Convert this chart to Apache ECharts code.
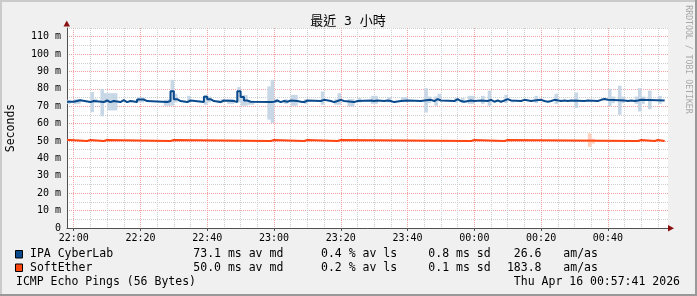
<!DOCTYPE html>
<html>
<head>
<meta charset="utf-8">
<script src="https://cdn.jsdelivr.net/npm/echarts@6/dist/echarts.min.js"></script>
<style>
html,body{margin:0;padding:0;background:#f0f0f0;}
#c{width:697px;height:296px;}
</style>
</head>
<body>
<div id="c"></div>
<script>
// ---- data (minutes since 21:58) ----
const titleText = '最近 3 小時';
const yAxisTitle = 'Seconds';
const xTickLabels = ['22:00','22:20','22:40','23:00','23:20','23:40','00:00','00:20','00:40'];
const yTickValues = [0,10,20,30,40,50,60,70,80,90,100,110];

const seriesNames = ['IPA CyberLab', 'SoftEther'];
const seriesColors = ['#0a4a8c', '#ff4510'];
const smokeColors = ['#c8d7e6', '#fdcfbf'];

// median (change points: [minute index, ms])
const blueMedian = [
[0,72.6],[2,73.5],[4,72.4],[7,73.0],[8,72.4],[11,73.3],[12,72.4],[13,73.0],[14,72.4],[16,73.5],[17,72.4],[18,73.0],[19,72.4],[21,73.9],[23,73.0],[24,72.4],[30,73.0],[31,78.7],[32,74.1],[33,73.0],[34,72.4],[36,73.3],[37,72.4],[41,75.5],[42,74.1],[43,73.0],[44,72.4],[46,73.3],[47,73.0],[50,72.4],[51,78.7],[52,75.3],[53,73.3],[54,72.6],[55,72.4],[61,72.6],[62,73.3],[63,72.4],[64,73.0],[65,72.6],[66,73.3],[67,73.0],[69,72.6],[70,72.4],[71,73.3],[72,73.0],[76,73.7],[77,73.0],[79,72.4],[80,73.0],[81,73.7],[82,73.0],[83,72.4],[86,73.0],[87,73.3],[91,73.0],[92,73.3],[93,73.0],[95,73.3],[96,73.0],[97,72.4],[98,73.0],[100,73.3],[102,73.0],[106,73.3],[107,73.7],[109,73.0],[110,74.1],[111,73.3],[112,73.0],[116,74.1],[117,73.0],[118,72.6],[119,73.3],[121,73.0],[122,73.3],[124,73.0],[126,73.7],[127,72.6],[128,73.3],[129,72.6],[130,73.3],[131,74.1],[132,73.3],[133,73.0],[136,73.7],[137,73.0],[139,73.3],[140,73.7],[142,73.0],[143,72.6],[144,73.0],[145,73.7],[146,73.0],[148,73.3],[149,73.0],[150,73.3],[151,73.0],[155,73.3],[156,73.0],[159,73.7],[160,74.2],[161,73.7],[162,73.3],[167,73.0],[168,73.3],[169,73.0],[170,73.3],[171,73.7],[172,73.3],[179,73.3]
];
const redMedian = [
[0,50.6],[1,50.0],[6,50.6],[7,50.0],[11,50.6],[12,50.0],[31,50.6],[32,50.0],[61,50.6],[62,50.0],[71,50.6],[72,50.0],[81,50.6],[82,50.0],[121,50.6],[122,50.0],[131,50.6],[132,50.0],[171,50.6],[172,50.0],[176,50.6],[177,50.0],[179,50.0]
];
// smoke: [minute index, low ms, high ms]
const blueSmoke = [
[0,71.4,73.7],[2,71.4,74.1],[3,71.4,74.1],[7,66.6,78.1],[8,72.2,74.3],[10,64.2,80.0],[11,71.8,77.5],[12,67.6,77.5],[13,67.6,77.5],[14,67.6,77.5],[21,72.2,75.3],[22,72.2,75.3],[29,70.3,73.7],[30,70.3,74.1],[31,70.3,85.2],[32,72.2,77.2],[36,72.2,76.0],[41,70.9,76.6],[42,72.2,75.6],[45,71.8,73.3],[46,72.2,74.1],[48,71.4,74.1],[49,71.4,74.1],[51,72.2,81.0],[52,70.3,76.6],[53,70.3,76.6],[54,70.9,73.3],[55,70.9,73.3],[60,62.3,81.4],[61,60.4,85.2],[62,71.8,74.1],[65,71.4,74.1],[67,70.3,76.6],[68,70.3,76.6],[70,71.8,73.3],[71,71.4,74.1],[76,70.9,78.5],[80,70.9,74.1],[81,70.9,77.5],[84,69.9,74.1],[85,69.9,74.1],[87,72.2,74.7],
[91,71.4,76.0],[92,71.4,76.0],[96,72.2,75.3],[100,72.4,75.3],[101,72.4,75.3],[107,66.4,80.4],[108,71.8,75.6],[110,70.3,75.6],[111,72.8,77.2],[116,72.2,74.7],[118,71.8,74.7],[120,71.4,76.0],[121,71.4,76.0],[124,71.4,76.0],[126,70.3,79.0],[131,71.8,76.6],[133,72.2,73.7],[140,71.8,76.0],[146,71.4,77.2],[152,69.0,77.9],[162,69.9,80.0],[163,71.8,75.6],[165,65.1,81.8],[166,71.8,75.6],[170,71.4,75.6],[171,67.0,80.4],[172,71.4,75.6],[174,68.3,79.0],[177,71.4,76.0]
];
const redSmoke = [[156,46.6,54.4],[157,48.5,51.3]];

// legend statistics
const legendMedian = ['73.1 ms av md', '50.0 ms av md'];
const legendLoss = ['0.4 % av ls', '0.2 % av ls'];
const legendSd = ['0.8 ms sd', '0.1 ms sd'];
const legendAmas = ['26.6', '183.8'];
const footerLeft = 'ICMP Echo Pings (56 Bytes)';
const footerRight = 'Thu Apr 16 00:57:41 2026';

// ---- axis categories: one per minute, 21:58 .. 00:58 ----
const startMin = 21*60 + 58;
const categories = [];
for (let i = 0; i <= 180; i++) {
  const t = (startMin + i) % 1440;
  categories.push(String(Math.floor(t/60)).padStart(2,'0') + ':' + String(t%60).padStart(2,'0'));
}
const minuteOf = s => parseInt(s.slice(3), 10);

const MONO = "'DejaVu Sans Mono'";
const chart = echarts.init(document.getElementById('c'), null, {renderer: 'canvas'});

function smokeSeries(data, color) {
  return {
    type: 'custom',
    data: data,
    encode: {x: 0, y: [1, 2]},
    silent: true,
    z: 1,
    renderItem: function (params, api) {
      const pTop = api.coord([api.value(0), api.value(2)]);
      const pBot = api.coord([api.value(0), api.value(1)]);
      const w = api.size([1, 0])[0];
      return {type: 'rect', shape: {x: pTop[0], y: pTop[1], width: w + 0.3, height: pBot[1] - pTop[1]}, style: {fill: color}};
    }
  };
}

const legendRowsY = [254.5, 268];
const graphics = [
  // frame
  {type: 'rect', shape: {x: 0, y: 0, width: 697, height: 2}, style: {fill: '#cbcbcb'}, silent: true},
  {type: 'rect', shape: {x: 0, y: 0, width: 2, height: 296}, style: {fill: '#cbcbcb'}, silent: true},
  {type: 'rect', shape: {x: 0, y: 294, width: 697, height: 2}, style: {fill: '#999999'}, silent: true},
  {type: 'rect', shape: {x: 695, y: 0, width: 2, height: 296}, style: {fill: '#999999'}, silent: true},
  // title
  {type: 'text', style: {x: 348, y: 21.5, text: titleText, font: "13px 'DejaVu Sans Mono','Noto Sans CJK TC'", fill: '#000', align: 'center', verticalAlign: 'middle', textAlign: 'center', textVerticalAlign: 'middle'}},
  // watermark
  {type: 'text', x: 688, y: 59.5, rotation: -Math.PI/2, style: {x: 0, y: 0, text: 'RRDTOOL / TOBI OETIKER', font: '8.2px ' + MONO, fill: '#a8a8a8', align: 'center', verticalAlign: 'middle', textAlign: 'center', textVerticalAlign: 'middle'}},
  // axis arrows
  {type: 'polygon', shape: {points: [[63.5, 26.5], [70, 26.5], [66.75, 20.5]]}, style: {fill: '#8b1010'}, z: 100},
  {type: 'polygon', shape: {points: [[668, 225], [668, 231.6], [674, 228.3]]}, style: {fill: '#8b1010'}, z: 100},
  // footer
  {type: 'text', style: {x: 16, y: 282, text: footerLeft, font: '11.5px ' + MONO, fill: '#000', align: 'left', verticalAlign: 'middle', textAlign: 'left', textVerticalAlign: 'middle'}},
  {type: 'text', style: {x: 680, y: 282, text: footerRight, font: '11.5px ' + MONO, fill: '#000', align: 'right', verticalAlign: 'middle', textAlign: 'right', textVerticalAlign: 'middle'}}
];
for (let r = 0; r < seriesNames.length; r++) {
  const y = legendRowsY[r];
  graphics.push({type: 'rect', shape: {x: 15.5, y: y - 4, width: 7, height: 7.5}, style: {fill: seriesColors[r], stroke: '#000', lineWidth: 1}});
  const items = [[30, seriesNames[r], 'left'], [193.3, legendMedian[r], 'left'], [321, legendLoss[r], 'left'], [428.3, legendSd[r], 'left'], [541.5, legendAmas[r], 'right'], [563.3, 'am/as', 'left']];
  items.forEach(([x, t, a]) => graphics.push({type: 'text', style: {x: x, y: y, text: t, font: '11.5px ' + MONO, fill: '#000', align: a, verticalAlign: 'middle', textAlign: a, textVerticalAlign: 'middle'}}));
}

const option = {
  animation: false,
  backgroundColor: '#f0f0f0',
  grid: {left: 67, right: 29, top: 28, bottom: 68, show: true, backgroundColor: '#ffffff', borderWidth: 0, containLabel: false, outerBoundsMode: 'none'},
  xAxis: {
    type: 'category',
    data: categories,
    boundaryGap: false,
    axisLine: {show: true, lineStyle: {color: '#505050', width: 1}},
    axisTick: {show: true, length: 3, interval: (i, v) => xTickLabels.indexOf(v) >= 0, lineStyle: {color: '#505050'}},
    axisLabel: {show: true, interval: (i, v) => xTickLabels.indexOf(v) >= 0, margin: 5, fontFamily: MONO, fontSize: 10, color: '#000'},
    splitLine: {show: true, interval: (i, v) => minuteOf(v) % 5 === 0, lineStyle: {color: ['#f2a0a0', '#cfcfcf', '#cfcfcf', '#cfcfcf'], type: [1, 1], width: 1}}
  },
  yAxis: {
    type: 'value',
    min: 0, max: 115, interval: 5,
    name: yAxisTitle, nameLocation: 'middle', nameGap: 50, nameRotate: 90,
    nameTextStyle: {fontFamily: MONO, fontSize: 11.5, color: '#000'},
    axisLine: {show: true, lineStyle: {color: '#505050', width: 1}},
    axisTick: {show: false},
    axisLabel: {margin: 6, fontFamily: MONO, fontSize: 10, color: '#000',
      formatter: v => (yTickValues.indexOf(v) >= 0 ? (v === 0 ? '0' : v + ' m') : '')},
    splitLine: {show: true, lineStyle: {color: ['#f2a0a0', '#cfcfcf'], type: [1, 1], width: 1}}
  },
  graphic: graphics,
  series: [
    smokeSeries(blueSmoke, smokeColors[0]),
    smokeSeries(redSmoke, smokeColors[1]),
    {type: 'line', name: seriesNames[1], data: redMedian, step: 'end', showSymbol: false, symbol: 'none', z: 3,
     lineStyle: {color: seriesColors[1], width: 2}, itemStyle: {color: seriesColors[1]}},
    {type: 'line', name: seriesNames[0], data: blueMedian, step: 'end', showSymbol: false, symbol: 'none', z: 4,
     lineStyle: {color: seriesColors[0], width: 2}, itemStyle: {color: seriesColors[0]}}
  ]
};
chart.setOption(option);
</script>
</body>
</html>
